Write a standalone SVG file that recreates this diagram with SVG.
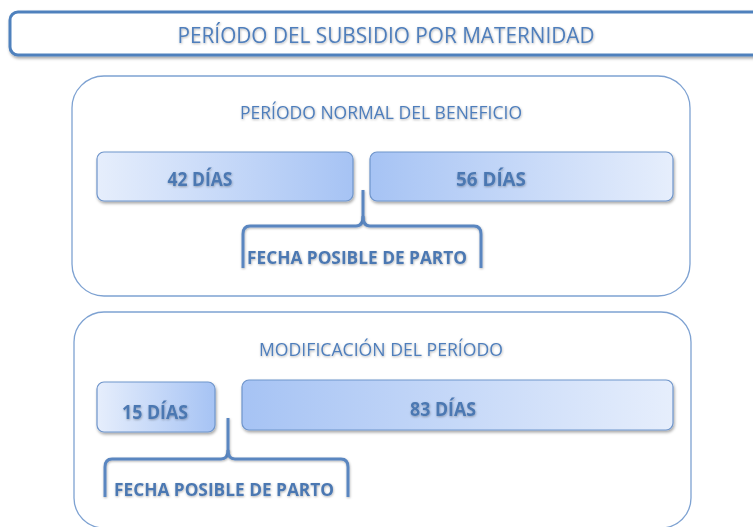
<svg xmlns="http://www.w3.org/2000/svg" width="753" height="527" viewBox="0 0 753 527">
<defs>
<linearGradient id="gL" x1="0" y1="0" x2="1" y2="0"><stop offset="0" stop-color="#E6EEFC"/><stop offset="1" stop-color="#A6C3F4"/></linearGradient>
<linearGradient id="gR" x1="0" y1="0" x2="1" y2="0"><stop offset="0" stop-color="#A6C3F4"/><stop offset="1" stop-color="#E6EEFC"/></linearGradient>
<filter id="sh" x="-10%" y="-20%" width="120%" height="150%"><feDropShadow dx="1" dy="2" stdDeviation="1.5" flood-color="#000" flood-opacity="0.35"/></filter>
<filter id="tsh" x="-5%" y="-20%" width="110%" height="150%"><feDropShadow dx="0.5" dy="1" stdDeviation="0.8" flood-color="#000" flood-opacity="0.3"/></filter>
<style>
.panel{fill:#fff;stroke:#7EA2D2;stroke-width:1.3}
.bar{stroke:#6F95CB;stroke-width:1.2;filter:url(#sh)}
.ttl{font-family:"Open Sans","Liberation Sans",sans-serif;fill:#4F7EBB;text-anchor:middle;filter:url(#tsh)}
.lbl{font-family:"Open Sans","Liberation Sans",sans-serif;font-weight:bold;fill:#4C78B2;text-anchor:middle;filter:url(#tsh)}
.brace{fill:none;stroke:#5A86C0;stroke-width:3;stroke-linejoin:round;filter:url(#tsh)}
</style>
</defs>
<g id="title">
<rect x="10" y="12" width="770" height="43" rx="8" fill="#fff" stroke="#4F81BD" stroke-width="3" filter="url(#sh)"/>
<text class="ttl" x="386" y="43" font-size="22" textLength="417" lengthAdjust="spacingAndGlyphs">PERÍODO DEL SUBSIDIO POR MATERNIDAD</text>
</g>
<g id="panel-normal">
<rect class="panel" x="72" y="76" width="618" height="220" rx="32"/>
<text class="ttl" x="381" y="119" font-size="19" textLength="282" lengthAdjust="spacingAndGlyphs">PERÍODO NORMAL DEL BENEFICIO</text>
</g>
<g id="box-42">
<rect class="bar" x="97" y="152" width="256" height="49" rx="7" fill="url(#gL)"/>
<text class="lbl" x="200" y="186" font-size="19.5" textLength="65" lengthAdjust="spacingAndGlyphs">42 DÍAS</text>
</g>
<g id="box-56">
<rect class="bar" x="370" y="152" width="303" height="49" rx="7" fill="url(#gR)"/>
<text class="lbl" x="491" y="186" font-size="19.5" textLength="70" lengthAdjust="spacingAndGlyphs">56 DÍAS</text>
</g>
<g id="fpp-1">
<text class="lbl" x="357" y="264" font-size="18" textLength="220" lengthAdjust="spacingAndGlyphs">FECHA POSIBLE DE PARTO</text>
</g>
<g id="panel-mod">
<rect class="panel" x="74" y="312" width="617" height="216" rx="30"/>
<text class="ttl" x="381" y="356" font-size="19" textLength="244" lengthAdjust="spacingAndGlyphs">MODIFICACIÓN DEL PERÍODO</text>
</g>
<g id="box-15">
<rect class="bar" x="97" y="382" width="118" height="50" rx="7" fill="url(#gL)"/>
<text class="lbl" x="155" y="419" font-size="19.5" textLength="66" lengthAdjust="spacingAndGlyphs">15 DÍAS</text>
</g>
<g id="box-83">
<rect class="bar" x="242" y="380" width="431" height="50" rx="7" fill="url(#gR)"/>
<text class="lbl" x="443" y="416" font-size="19.5" textLength="66" lengthAdjust="spacingAndGlyphs">83 DÍAS</text>
</g>
<g id="fpp-2">
<text class="lbl" x="224" y="496" font-size="18" textLength="220" lengthAdjust="spacingAndGlyphs">FECHA POSIBLE DE PARTO</text>
</g>
<g id="connectors">
<path class="brace" d="M363 190 V216 Q363 226 356 226 H250 Q243 226 243 234 V268"/>
<path class="brace" d="M363 216 Q363 226 370 226 H474 Q481 226 481 234 V268"/>
<path class="brace" d="M228 418 V450 Q228 459 221 459 H112 Q105 459 105 467 V497"/>
<path class="brace" d="M228 450 Q228 459 235 459 H341 Q348 459 348 467 V497"/>
</g>
</svg>
